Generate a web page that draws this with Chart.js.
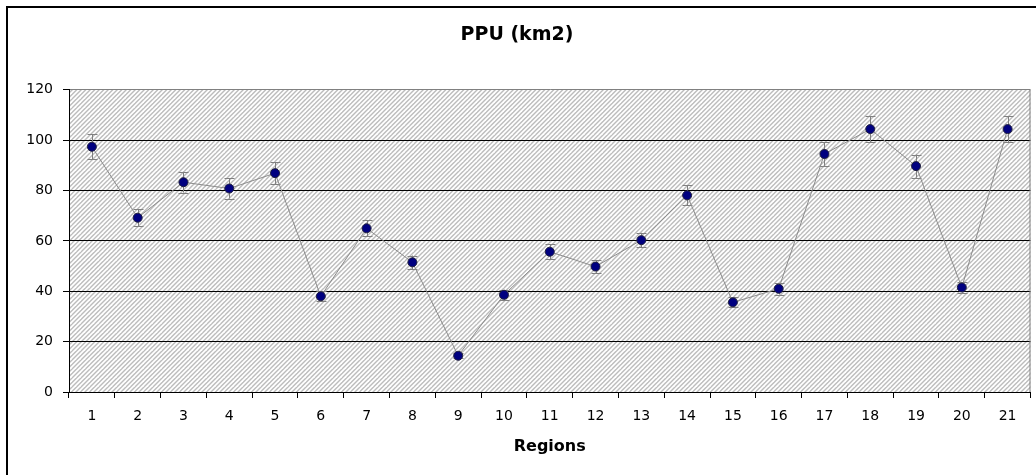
<!DOCTYPE html>
<html>
<head>
<meta charset="utf-8">
<script src="https://cdn.jsdelivr.net/npm/chart.js@4/dist/chart.umd.min.js"></script>
<style>
  html, body { margin: 0; padding: 0; background: #fff; }
  #wrap { width: 1036px; height: 475px; }
</style>
</head>
<body>
<div id="wrap"><canvas id="ppuChart" width="1036" height="475"></canvas></div>
<script>
const regions = ['1', '2', '3', '4', '5', '6', '7', '8', '9', '10', '11', '12', '13', '14', '15', '16', '17', '18', '19', '20', '21'];
const ppu = [97.4, 69.2, 83.3, 80.8, 86.9, 38.0, 65.0, 51.5, 14.4, 38.6, 55.7, 49.8, 60.3, 78.1, 35.6, 41.0, 94.5, 104.4, 89.7, 41.5, 104.4];
const ppuErr = [4.9, 3.4, 4.1, 4.0, 4.3, 2.0, 3.2, 2.7, 1.0, 2.0, 2.9, 2.5, 2.9, 4.0, 2.0, 2.3, 4.7, 5.2, 4.6, 2.0, 5.2];

// diagonal hatch used for the plot background
function hatch() {
    const c = document.createElement('canvas');
    c.width = 9; c.height = 9;
    const g = c.getContext('2d');
    g.fillStyle = '#fff';
    g.fillRect(0, 0, 9, 9);
    g.strokeStyle = '#bcbcbc';
    g.lineWidth = 1.4;
    for (let k = -2; k <= 5; k++) {
        const cst = k * 4.5;
        g.beginPath();
        g.moveTo(cst + 9, -9 + 0);
        g.lineTo(cst - 9, 9 + 0);
        g.stroke();
    }
    return g.createPattern(c, 'repeat');
}

const frame = {
    id: 'frame',
    beforeDraw(chart) {
        const ctx = chart.ctx, a = chart.chartArea;
        ctx.save();
        ctx.fillStyle = '#fff';
        ctx.fillRect(0, 0, chart.width, chart.height);
        ctx.strokeStyle = '#000';
        ctx.lineWidth = 2;
        ctx.strokeRect(7, 7, chart.width + 20, chart.height + 20);
        ctx.fillStyle = hatch();
        ctx.fillRect(a.left, a.top, a.right - a.left, a.bottom - a.top);
        ctx.restore();
    },
    beforeDatasetsDraw(chart) {
        const ctx = chart.ctx, a = chart.chartArea;
        const xs = chart.scales.x, ys = chart.scales.y;
        ctx.save();
        ctx.strokeStyle = '#808080';
        ctx.lineWidth = 1;
        ctx.beginPath();
        ctx.moveTo(a.right - 0.5, a.top);
        ctx.lineTo(a.right - 0.5, a.bottom);
        ctx.stroke();
        ppu.forEach((v, i) => {
            const x = Math.round(xs.getPixelForValue(i)) + 0.5;
            const yt = ys.getPixelForValue(v + ppuErr[i]);
            const yb = ys.getPixelForValue(v - ppuErr[i]);
            ctx.beginPath();
            ctx.moveTo(x, yt); ctx.lineTo(x, yb);
            ctx.moveTo(x - 5, Math.round(yt) + 0.5); ctx.lineTo(x + 5, Math.round(yt) + 0.5);
            ctx.moveTo(x - 5, Math.round(yb) + 0.5); ctx.lineTo(x + 5, Math.round(yb) + 0.5);
            ctx.stroke();
        });
        ctx.restore();
    }
};

const font = 'DejaVu Sans';

new Chart(document.getElementById('ppuChart'), {
    type: 'line',
    data: {
        labels: regions,
        datasets: [{
            label: 'PPU',
            data: ppu,
            borderColor: '#8c8c8c',
            borderWidth: 1,
            pointRadius: 4.5,
            pointBackgroundColor: '#000080',
            pointBorderColor: '#202040',
            pointBorderWidth: 1,
            tension: 0,
            fill: false
        }]
    },
    options: {
        responsive: false,
        animation: false,
        layout: { padding: { left: 0, right: 2, top: 0, bottom: 0 } },
        plugins: {
            legend: { display: false },
            tooltip: { enabled: false },
            title: {
                display: true,
                text: 'PPU (km2)',
                color: '#000',
                font: { family: font, size: 19, weight: 'bold' },
                padding: { top: 24, bottom: 43 }
            }
        },
        scales: {
            x: {
                offset: true,
                grid: { offset: true, drawOnChartArea: false, color: '#000', tickLength: 6 },
                border: { color: '#000' },
                ticks: { color: '#000', font: { family: font, size: 14 }, padding: 10, maxRotation: 0 },
                title: {
                    display: true,
                    text: 'Regions',
                    color: '#000',
                    font: { family: font, size: 16, weight: 'bold' },
                    padding: { top: 0, bottom: 19 }
                },
                afterFit(s) { s.height = 83; }
            },
            y: {
                min: 0,
                max: 120,
                ticks: { stepSize: 20, color: '#000', font: { family: font, size: 14 }, padding: 10 },
                grid: {
                    color: c => c.tick && c.tick.value === 120 ? '#808080' : '#000',
                    tickColor: '#000',
                    tickLength: 6
                },
                border: { color: '#000' },
                afterFit(s) { s.width = 69; }
            }
        }
    },
    plugins: [frame]
});
</script>
</body>
</html>
